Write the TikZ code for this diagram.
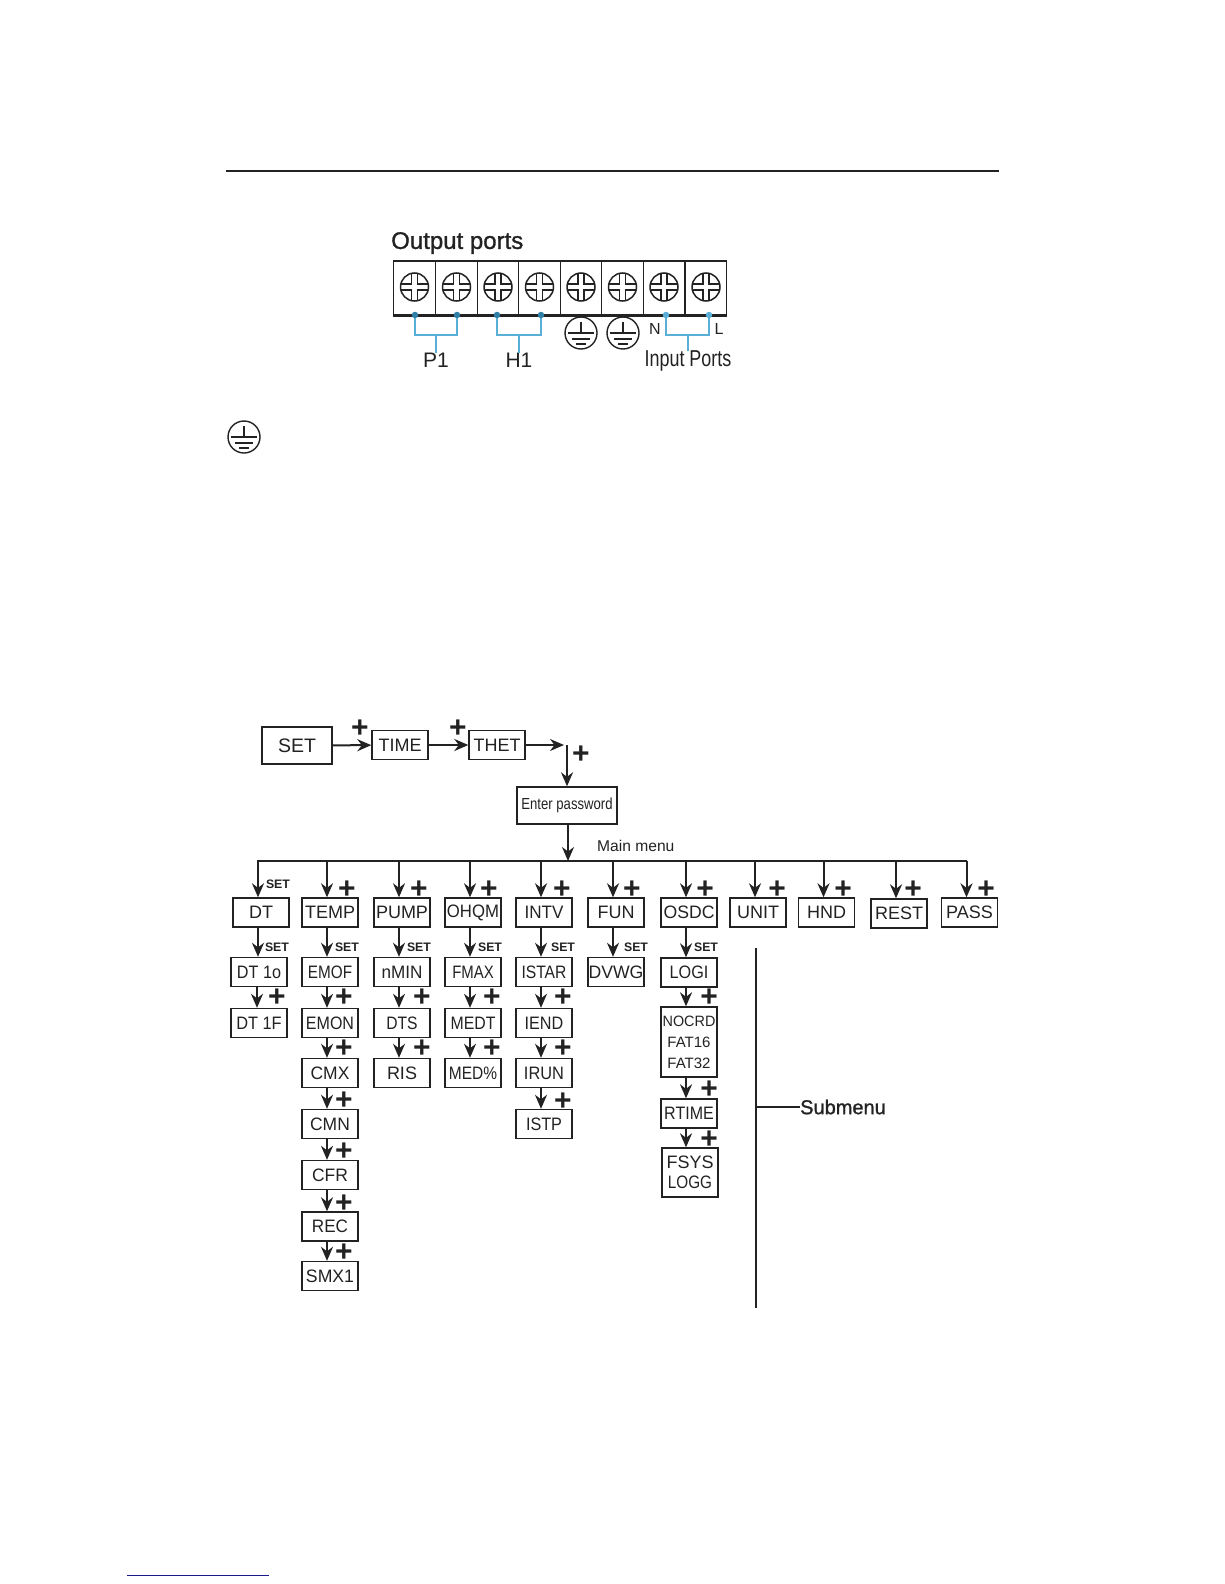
\documentclass[tikz,border=0pt]{standalone}
\usepackage{fontspec}
\usetikzlibrary{arrows.meta}
\setmainfont{Liberation Sans}
\newfontfamily\semibold[FakeBold=1.2]{Liberation Sans}
\definecolor{ink}{HTML}{222222}
\definecolor{wire}{HTML}{5AAFD6}
\definecolor{wiredot}{HTML}{2F7FA6}
\definecolor{linkblue}{HTML}{1A1A8C}
\newcommand{\fs}[2]{\fontsize{#1}{#2}\selectfont}
\newcommand{\sx}[2]{\scalebox{#1}[1]{#2}}
\tikzset{
  menubox/.style={draw=ink, text=ink, line width=1.4, inner sep=0, minimum width=56, minimum height=29, align=center, font=\fs{18}{20}},
  arr/.style={draw=ink, line width=2, -{Stealth[length=14pt,width=12pt]}},
  plus/.style={text=ink, inner sep=0, yshift=-2pt, font=\fs{30}{30}\bfseries},
  setlabel/.style={text=ink, inner sep=0, font=\fs{12.3}{14}\bfseries},
  cell/.style={draw=ink, line width=1.3, inner sep=0, minimum width=41.6, minimum height=54},
  port/.style={text=ink, inner sep=0},
  wiredraw/.style={draw=wire, line width=1.8},
  pindot/.style={circle, fill=#1, inner sep=0, minimum size=6.5},
  screw/.pic={
    \draw[ink, line width=1.5] (0,0) circle (14);
    \foreach \r in {0,90,180,270}
      \draw[ink, line width=1.2, rotate=\r] (13.7,3) -- (3,3) -- (3,13.7);
  },
  earth/.pic={
    \draw[ink, line width=1.4] (0,0) circle (16);
    \draw[ink, line width=1.3] (0,-11) -- (0,0) (-13,0) -- (13,0) (-9,6) -- (9,6) (-5,11) -- (5,11);
  }
}
\begin{document}
\begin{tikzpicture}[x=1pt,y=-1pt]
  \useasboundingbox (0,0) rectangle (1224,1584);

  % page rules and the loose earth symbol
  \draw[ink, line width=1.3] (226,171) -- (999,171);
  \draw[linkblue, line width=1] (127,1575) -- (269,1575);
  \pic at (244,437) {earth};

  % terminal block
  \node[port, font=\semibold\fs{24}{24}, anchor=west] (Output) at (391,243) {Output ports};
  \foreach \x [count=\i] in {414.5,456.5,498,539.5,581,622.5,664,706} {
    \node[cell] (C\i) at (\x,288) {};
    \pic at (\x,287) {screw};
  }
  \draw[ink, line width=2] (C1.south west) -- (C8.south east);

  % pins under the block
  \node[pindot=wiredot] (P1a) at (415,315) {};
  \node[pindot=wiredot] (P1b) at (457,315) {};
  \node[pindot=wiredot] (H1a) at (497,315) {};
  \node[pindot=wiredot] (H1b) at (541,315) {};
  \node[pindot=wire] (Na) at (666,315) {};
  \node[pindot=wire] (La) at (709,315) {};
  \node[port, font=\fs{21}{22}] (P1) at (436,360) {P1};
  \node[port, font=\fs{21}{22}] (H1) at (519,360) {H1};
  \node[port, font=\fs{16}{16}] (N) at (655,329) {N};
  \node[port, font=\fs{16}{16}] (L) at (719,329) {L};
  \node[port, font=\fs{23}{24}] (Input) at (688,361) {\sx{0.78}{Input Ports}};
  \coordinate (Bar) at (0,335);
  \path[wiredraw] (P1a) -- (P1a |- Bar) -| (P1b);
  \path[wiredraw] (H1a) -- (H1a |- Bar) -| (H1b);
  \path[wiredraw] (Na) -- (Na |- Bar) -| (La);
  \path[wiredraw] (P1.north) -- (P1.north |- Bar);
  \path[wiredraw] (H1.north) -- (H1.north |- Bar);
  \path[wiredraw] (Input.north) -- (Input.north |- Bar);
  \pic at (581,333) {earth};
  \pic at (623,333) {earth};

  % top of the menu
  \node[menubox, minimum width=70, minimum height=37, font=\fs{19.5}{20}] (Set) at (297,745.5) {SET};
  \node[menubox] (Time) at (400,745) {TIME};
  \node[menubox] (Thet) at (497,745) {THET};
  \node[menubox, minimum width=100, minimum height=37, font=\fs{16}{18}] (Enter) at (567,805.5) {\sx{0.82}{Enter password}};
  \coordinate (Corner) at (567,745);
  \coordinate (Hub) at (568,861);
  \draw[arr] (Set) -- (Time);
  \draw[arr] (Time) -- (Thet);
  \draw[arr, shorten >=3pt] (Thet) -- (Corner);
  \draw[arr] (Corner) -- (Enter.north);
  \draw[arr] (Hub |- Enter.south) -- (Hub);
  \node[port, font=\fs{15.6}{16}, anchor=west] (Main) at (597,846) {Main menu};

  % first row
  \node[menubox] (Dt) at (261,912.5) {DT};
  \node[menubox] (Temp) at (330,912.5) {TEMP};
  \node[menubox] (Pump) at (402,912.5) {PUMP};
  \node[menubox] (Ohqm) at (473,912.5) {\sx{0.93}{OHQM}};
  \node[menubox] (Intv) at (544,912.5) {\sx{0.95}{INTV}};
  \node[menubox] (Fun) at (616,912.5) {FUN};
  \node[menubox] (Osdc) at (689,912.5) {\sx{0.98}{OSDC}};
  \node[menubox] (Unit) at (758,912.5) {UNIT};
  \node[menubox] (Hnd) at (826.5,912.5) {HND};
  \node[menubox] (Rest) at (899,913.5) {REST};
  \node[menubox] (Pass) at (969.5,912.5) {PASS};

  % submenus
  \node[menubox] (DtOne) at (259,972) {\sx{0.9}{DT 1o}};
  \node[menubox] (DtTwo) at (259,1023) {\sx{0.91}{DT 1F}};
  \node[menubox] (Emof) at (330,972) {\sx{0.85}{EMOF}};
  \node[menubox] (Emon) at (330,1023) {\sx{0.89}{EMON}};
  \node[menubox] (Cmx) at (330,1073) {\sx{0.97}{CMX}};
  \node[menubox] (Cmn) at (330,1124) {\sx{0.97}{CMN}};
  \node[menubox] (Cfr) at (330,1175) {\sx{0.97}{CFR}};
  \node[menubox] (Rec) at (330,1226.5) {\sx{0.95}{REC}};
  \node[menubox] (Smx) at (330,1276) {\sx{0.98}{SMX1}};
  \node[menubox] (Nmin) at (402,972) {\sx{0.95}{nMIN}};
  \node[menubox] (Dts) at (402,1023) {\sx{0.87}{DTS}};
  \node[menubox] (Ris) at (402,1073) {RIS};
  \node[menubox] (Fmax) at (473,972) {\sx{0.83}{FMAX}};
  \node[menubox] (Medt) at (473,1023) {\sx{0.88}{MEDT}};
  \node[menubox] (Medp) at (473,1073) {\sx{0.86}{MED\%}};
  \node[menubox] (Istar) at (544,972) {\sx{0.87}{ISTAR}};
  \node[menubox] (Iend) at (544,1023) {\sx{0.9}{IEND}};
  \node[menubox] (Irun) at (544,1073) {\sx{0.91}{IRUN}};
  \node[menubox] (Istp) at (544,1124) {\sx{0.9}{ISTP}};
  \node[menubox] (Dvwg) at (616,972) {\sx{0.98}{DVWG}};
  \node[menubox] (Logi) at (689,972.5) {\sx{0.9}{LOGI}};
  \node[menubox, minimum height=70, font=\fs{15}{21}] (Nocrd) at (689,1042) {\sx{0.96}{NOCRD}\\FAT16\\FAT32};
  \node[menubox] (Rtime) at (689,1113.5) {\sx{0.89}{RTIME}};
  \node[menubox, minimum height=49] (Fsys) at (690,1172.5) {FSYS\\\sx{0.85}{LOGG}};

  % bus and its branches
  \coordinate (BusL) at (257,861);
  \coordinate (BusR) at (967,861);
  \draw[ink, line width=2] (BusL) -- (BusR);
  \foreach \a in {Dt,Temp,Pump,Ohqm,Intv,Fun,Osdc,Unit,Hnd,Rest,Pass}
    \draw[arr] ([xshift=-3]\a.north |- BusL) -- ([xshift=-3]\a.north);
  \foreach \a/\b in {Temp/Emof,Emof/Emon,Emon/Cmx,Cmx/Cmn,Cmn/Cfr,Cfr/Rec,Rec/Smx,
      Pump/Nmin,Nmin/Dts,Dts/Ris,Ohqm/Fmax,Fmax/Medt,Medt/Medp,
      Intv/Istar,Istar/Iend,Iend/Irun,Irun/Istp,Fun/Dvwg,
      Osdc/Logi,Logi/Nocrd,Nocrd/Rtime}
    \draw[arr] ([xshift=-3]\a.south) -- ([xshift=-3]\b.north);
  \draw[arr] ([xshift=-3]Dt.south) -- ([xshift=-1]DtOne.north);
  \draw[arr] ([xshift=-2]DtOne.south) -- ([xshift=-2]DtTwo.north);
  \draw[arr] ([xshift=-3]Rtime.south) -- ([xshift=-4]Fsys.north);

  % plus signs
  \foreach \x/\y [count=\i] in {360/727,458/727,581/753,
      347/888,419/888,489/888,562/888,632/888,705/888,777/888,843/888,913/888,986/888,
      277/996,344/996,422/996,492/996,563/996,709/996,
      344/1047,422/1047,492/1047,563/1047,
      344/1099,344/1150,344/1202,344/1251,563/1100,709/1088,709/1138}
    \node[plus] (Plus\i) at (\x,\y) {+};

  % set labels
  \foreach \x/\y [count=\i] in {278/884,277/947,347/947,419/947,490/947,563/947,636/947,706/947}
    \node[setlabel] (SetL\i) at (\x,\y) {SET};

  % submenu bracket
  \coordinate (SubTop) at (756,948);
  \coordinate (SubBot) at (756,1308);
  \coordinate (SubTick) at (756,1107);
  \node[port, font=\semibold\fs{20}{20}, anchor=west, inner sep=0] (Submenu) at (800,1107) {Submenu};
  \draw[ink, line width=1.5] (SubTop) -- (SubBot);
  \draw[ink, line width=1.5] (SubTick) -- (Submenu.west);
\end{tikzpicture}
\end{document}
